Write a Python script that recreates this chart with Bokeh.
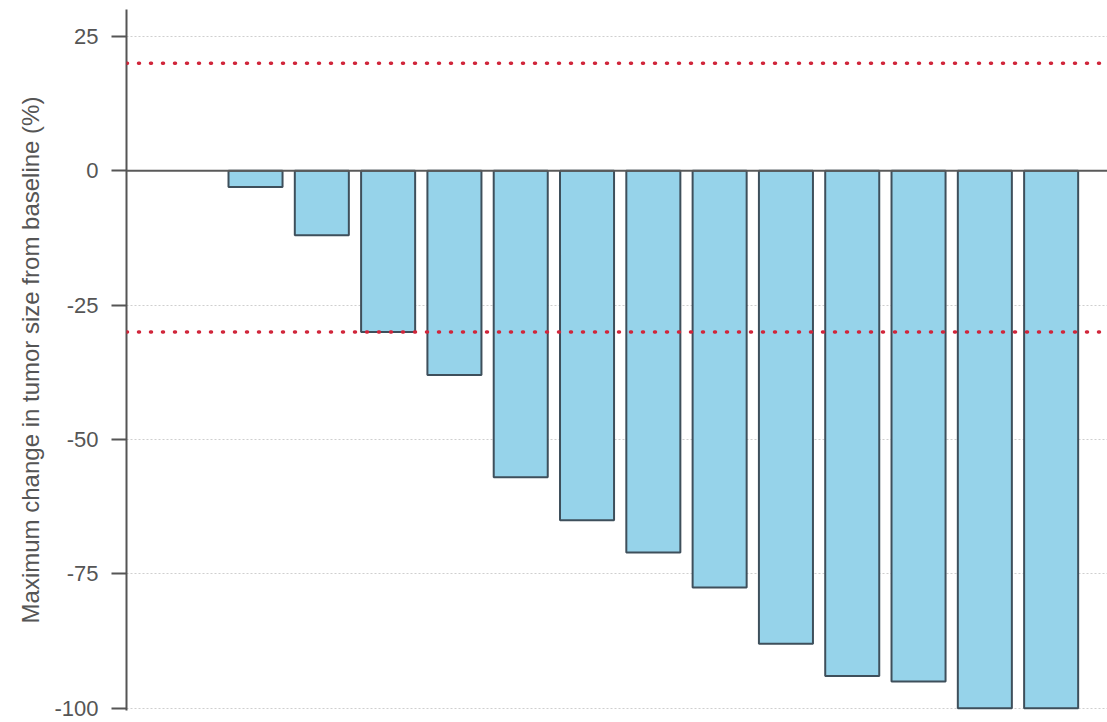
from bokeh.plotting import figure
from bokeh.models import ColumnDataSource, Range1d, FixedTicker, Span
from bokeh.embed import file_html
from bokeh.resources import INLINE

# Data
patients = list(range(1, 14))
max_change = [-3, -12, -30, -38, -57, -65, -71, -77.5, -88, -94, -95, -100, -100]
y_ticks = [-100, -75, -50, -25, 0, 25]
y_tick_labels = ["-100", "-75", "-50", "-25", "0", "25"]
pd_threshold = 20
pr_threshold = -30

src = ColumnDataSource(dict(x=patients, top=[0] * len(patients), bottom=max_change))

p = figure(width=1107, height=722, output_backend="svg", toolbar_location=None,
           x_range=Range1d(-0.946, 13.85), y_range=Range1d(-100.4, 30),
           x_axis_location=None,
           min_border_left=126, min_border_right=0, min_border_top=9, min_border_bottom=12)
p.outline_line_color = None
p.background_fill_color = "white"

# grid
p.xgrid.visible = False
p.ygrid.ticker = FixedTicker(ticks=y_ticks)
p.ygrid.grid_line_color = "#cfcfcf"
p.ygrid.grid_line_dash = "2 2"
p.ygrid.grid_line_width = 1

# bars
p.vbar(x="x", top="top", bottom="bottom", width=0.815, source=src,
       fill_color="#96d3ea", line_color="#3e4f5b", line_width=2)

# zero line
p.add_layout(Span(location=0, dimension="width", line_color="#5a5a5a", line_width=2))

# threshold lines
for loc in (pd_threshold, pr_threshold):
    p.add_layout(Span(location=loc, dimension="width", line_color="#d0253a",
                      line_width=3.5, line_dash="1 11", line_cap="round"))

# y axis
ax = p.yaxis[0]
ax.ticker = FixedTicker(ticks=y_ticks)
ax.major_label_overrides = {t: lab for t, lab in zip(y_ticks, y_tick_labels)}
ax.axis_label = "Maximum change in tumor size from baseline (%)"
ax.axis_label_text_font = "Liberation Sans"
ax.axis_label_text_font_style = "normal"
ax.axis_label_text_font_size = "24px"
ax.axis_label_text_color = "#555555"
ax.axis_label_standoff = 7
ax.major_label_text_font = "Liberation Sans"
ax.major_label_text_font_size = "22px"
ax.major_label_text_color = "#555555"
ax.major_label_standoff = 13
ax.axis_line_color = "#555555"
ax.axis_line_width = 2
ax.major_tick_line_color = "#555555"
ax.major_tick_line_width = 2
ax.major_tick_out = 15
ax.major_tick_in = 0
ax.minor_tick_line_color = None

open("out.html", "w").write(file_html(p, INLINE))
